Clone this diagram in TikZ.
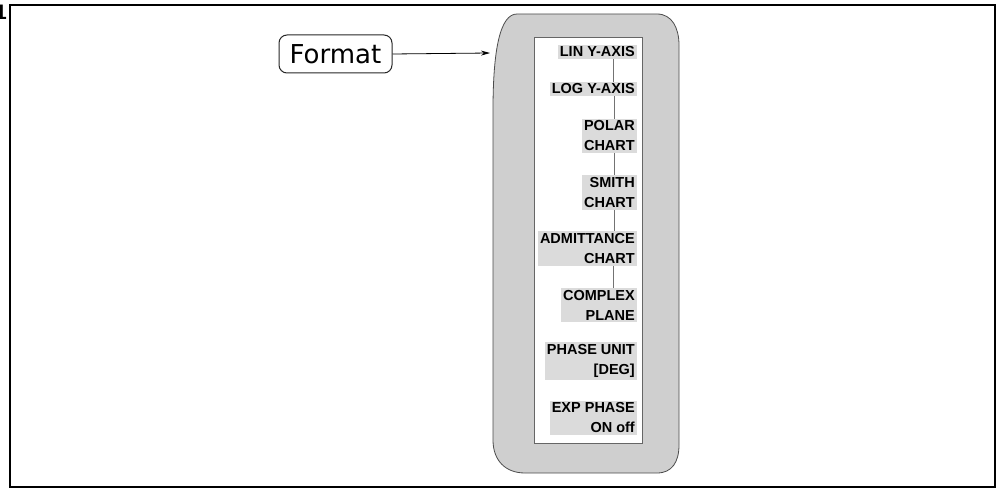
\documentclass[tikz,border=0pt]{standalone}
\usepackage{fontspec}
\setmainfont{Liberation Sans}
\newfontfamily\fmtfont{DejaVu Sans}
\usetikzlibrary{arrows.meta}
\tikzset{
	softkey/.style={anchor=east, fill=black!14, align=right, inner sep=2pt,
		font=\bfseries\fontsize{14.5}{20}\selectfont},
	keylink/.style={draw=black!55, line width=1pt}
}
\begin{document}
\begin{tikzpicture}[x=1pt, y=-1pt]
	  \useasboundingbox (0,0) rectangle (997,489);
	  \node[anchor=east, inner sep=0pt, font=\rmfamily\bfseries\fontsize{21}{21}\selectfont] (tag) at (7,12) {1};
	  \draw[line width=2.2pt] (10,5) rectangle (995,487);
	  
	  % shaded menu panel
	  \filldraw[fill=black!19, draw=black!70, line width=0.8pt]
	    (517,14) -- (657,14) .. controls (672,14) and (679,28) .. (679,45)
	    -- (679,445) .. controls (679,462) and (672,473) .. (657,473)
	    -- (525,473) .. controls (505,473) and (493,460) .. (493,440)
	    -- (493,110) .. controls (493,50) and (500,14) .. (517,14) -- cycle;
	  \filldraw[fill=white, draw=black!60, line width=0.8pt] (534,37) rectangle (642,443);
	  
	  \node[draw=black!85, line width=1pt, rounded corners=8pt, minimum width=113pt, minimum height=38pt, inner sep=0pt,
	    font=\fmtfont\fontsize{26}{26}\selectfont] (format) at (335.5,54) {Format};
	  
	  \node[softkey] (lin) at (637,52) {LIN Y-AXIS};
	  \node[softkey] (log) at (637,89) {LOG Y-AXIS};
	  \node[softkey] (polar) at (637,136) {POLAR\\CHART};
	  \node[softkey] (smith) at (637,192.5) {SMITH\\CHART};
	  \node[softkey] (admit) at (637,248.5) {ADMITTANCE\\CHART};
	  \node[softkey] (cplx) at (637,305) {COMPLEX\\PLANE};
	  \node[softkey] (phunit) at (637,361) {PHASE UNIT\\{[DEG]}};
	  \node[softkey] (expph) at (637,418) {EXP PHASE\\ON off};
	  
	  \draw[line width=0.8pt, -{Stealth[length=9pt, width=5pt]}] (format.east) -- (490,53);
	  \draw[keylink] ([xshift=-24pt]lin.south east) -- ([xshift=-24pt]log.north east);
	  \draw[keylink] ([xshift=-23pt]log.south east) -- ([xshift=-23pt]polar.north east);
	  \draw[keylink] ([xshift=-23pt]polar.south east) -- ([xshift=-23pt]smith.north east);
	  \draw[keylink] ([xshift=-23pt]smith.south east) -- ([xshift=-23pt]admit.north east);
	  \draw[keylink] ([xshift=-24pt]admit.south east) -- ([xshift=-24pt]cplx.north east);
	\end{tikzpicture}
\end{document}
